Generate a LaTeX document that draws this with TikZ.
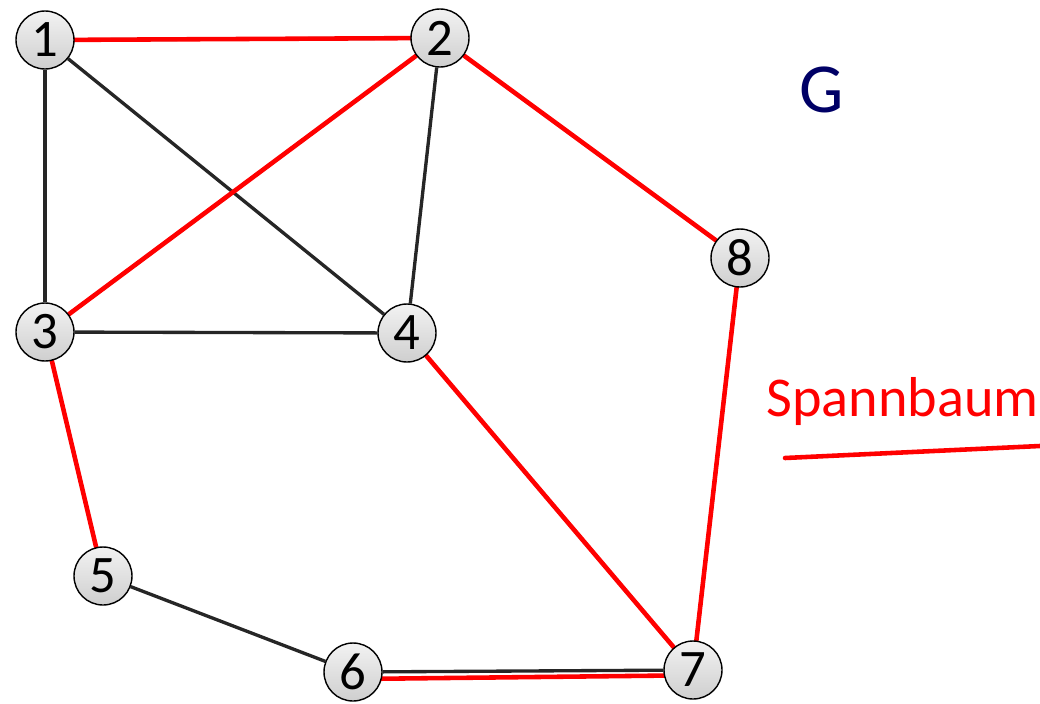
\documentclass[tikz,border=0pt]{standalone}
\usepackage{fontspec}
\setmainfont{Carlito}
\usetikzlibrary{backgrounds}
\tikzset{
    vertex/.style={circle, draw=black, line width=0.8pt, minimum size=1.16cm, inner sep=0pt,
        top color=gray!10, bottom color=gray!38, font=\fontsize{30}{30}\selectfont},
    edge/.style={draw=black!85, line width=1.9pt},
    tree/.style={draw=red, line width=2.6pt, line cap=round},
}
\begin{document}
\begin{tikzpicture}[x=0.02cm,y=-0.02cm]
    \useasboundingbox (0,0) rectangle (1040,703);

    % knoten
    \node[vertex] (v1) at (45,40) {1};
    \node[vertex] (v2) at (440,38) {2};
    \node[vertex] (v3) at (45,332) {3};
    \node[vertex] (v4) at (407,333) {4};
    \node[vertex] (v5) at (103,576) {5};
    \node[vertex] (v6) at (353,672) {6};
    \node[vertex] (v7) at (693,670) {7};
    \node[vertex] (v8) at (740,258) {8};

    \begin{pgfonlayer}{background}
        % kanten von G
        \foreach \a/\b in {1/2,1/3,1/4,2/3,2/4,2/8,3/4,3/5,5/6,6/7,4/7,7/8}
            \draw[edge] (v\a) -- (v\b);
        % spannbaum
        \foreach \a/\b in {1/2,2/3,2/8,3/5,4/7,8/7}
            \draw[tree] (v\a) -- (v\b);
        \draw[tree] ([yshift=-4pt]v6.center) -- ([yshift=-3pt]v7.center);
    \end{pgfonlayer}

    % beschriftung
    \node[text=blue!40!black, font=\fontsize{40}{40}\selectfont] (lblG) at (822,90) {G};
    \node[text=red, font=\fontsize{32}{32}\selectfont, anchor=west, inner sep=0pt] (lblS) at (766,402) {Spannbaum};
    \coordinate (ulA) at (785,458);
    \coordinate (ulB) at (1040,446);
    \draw[tree] (ulA) -- (ulB);
\end{tikzpicture}
\end{document}
